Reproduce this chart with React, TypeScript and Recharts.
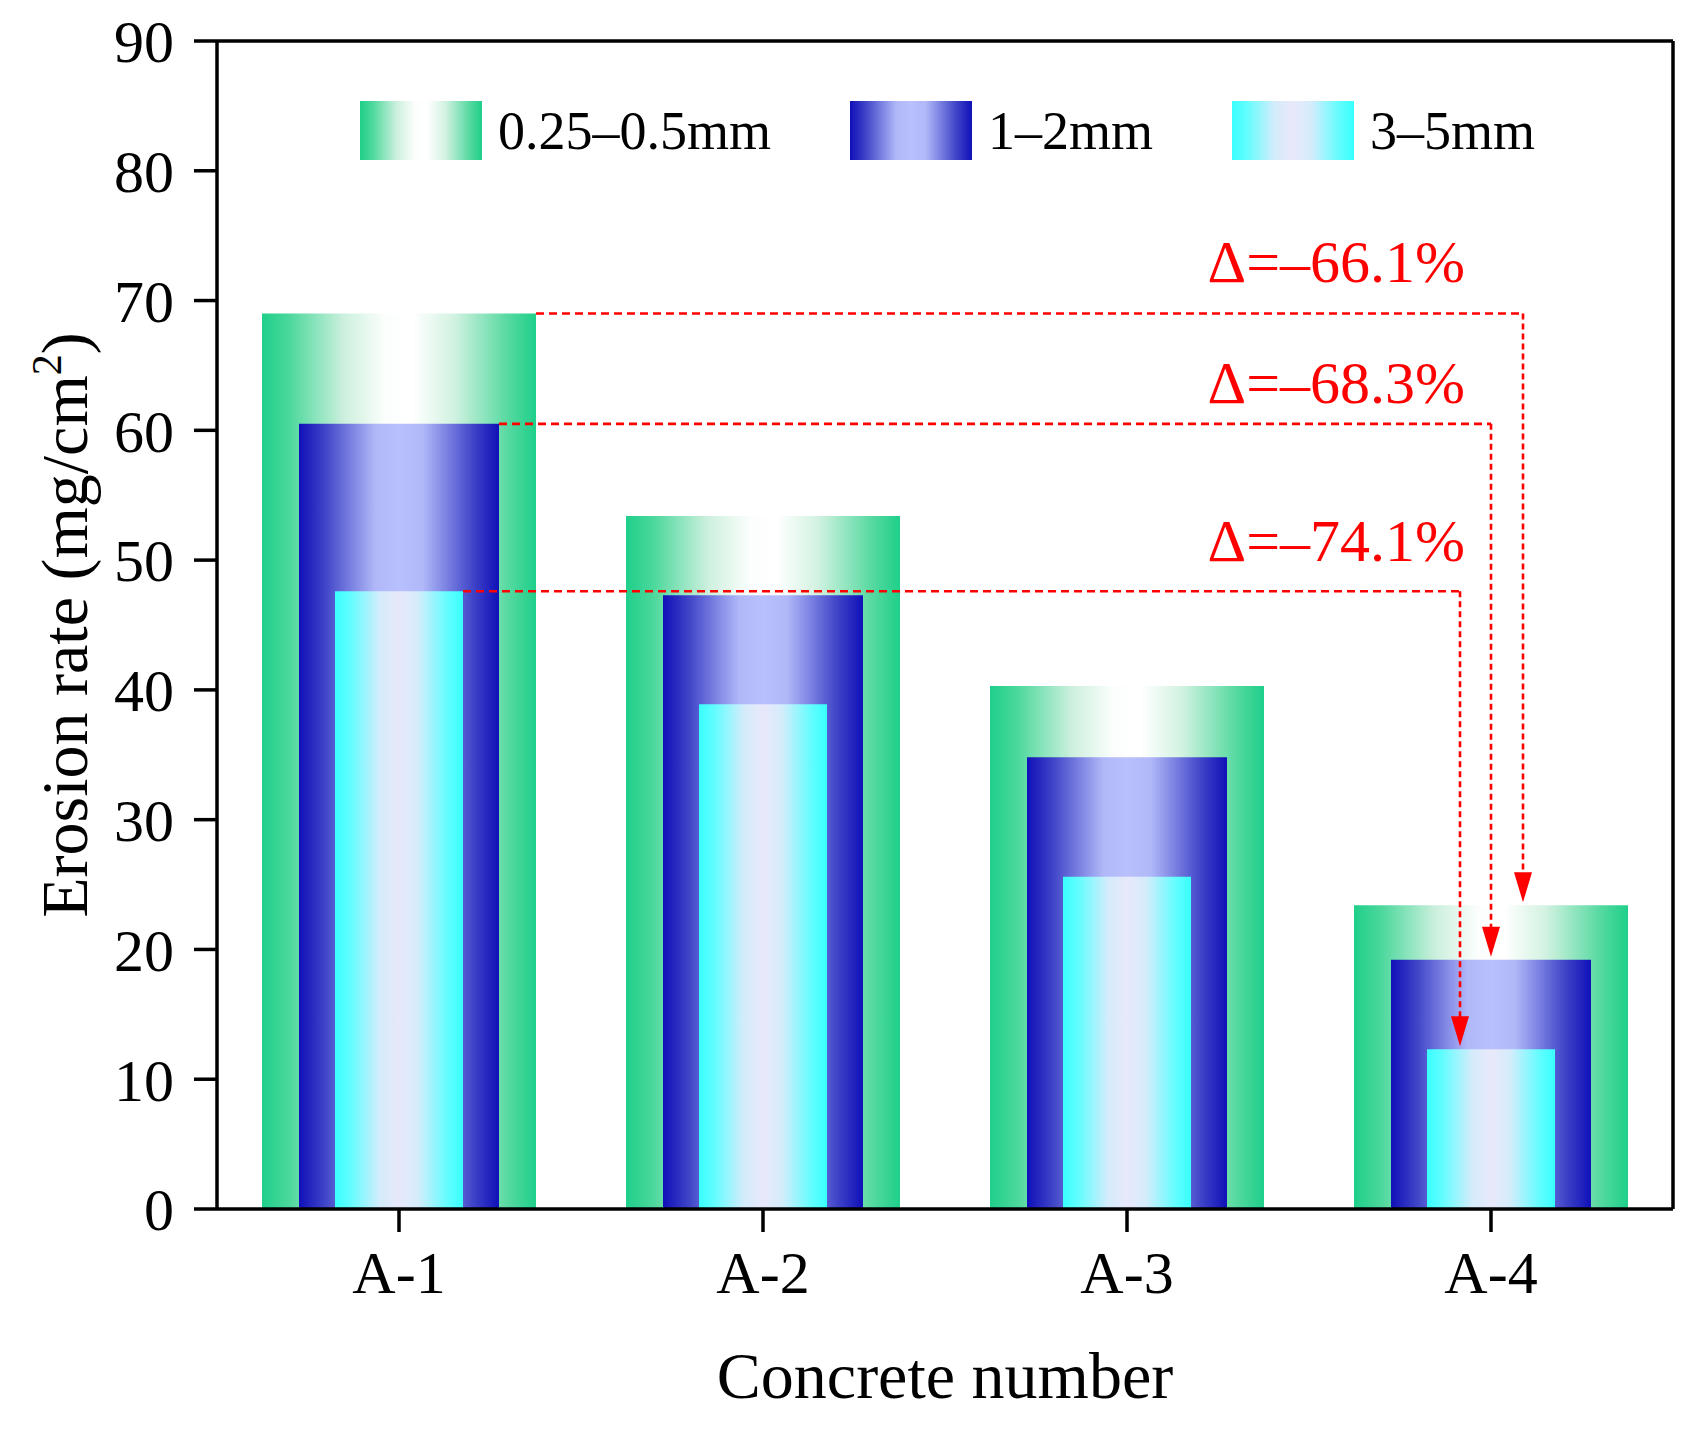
import React from "react";
import { BarChart, Bar, XAxis, YAxis, Legend, ReferenceLine } from "recharts";

const categories = ["A-1", "A-2", "A-3", "A-4"];
const fineRate = [69.0, 53.4, 40.3, 23.4];
const mediumRate = [60.5, 47.3, 34.8, 19.2];
const coarseRate = [47.6, 38.9, 25.6, 12.3];
const seriesNames = ["0.25–0.5mm", "1–2mm", "3–5mm"];
const yTicks = [0, 10, 20, 30, 40, 50, 60, 70, 80, 90];
const deltaLabels = ["Δ=–66.1%", "Δ=–68.3%", "Δ=–74.1%"];

const data = categories.map((name, i) => ({
  name,
  fine: fineRate[i],
  medium: mediumRate[i],
  coarse: coarseRate[i],
}));

const FONT = "'Liberation Serif', 'Times New Roman', serif";
const RED = "#ff0000";

type Stop = [number, string];

const greenStops: Stop[] = [
  [0, "#1ecf8a"],
  [0.1, "#4cd89c"],
  [0.3, "#cdf0de"],
  [0.45, "#fbfefc"],
  [0.55, "#ffffff"],
  [0.7, "#d2f2e1"],
  [0.9, "#55d9a0"],
  [1, "#1ecf8a"],
];
const blueStops: Stop[] = [
  [0, "#1010b8"],
  [0.12, "#3b40c6"],
  [0.38, "#b0b8f8"],
  [0.5, "#b8c0fd"],
  [0.62, "#b0b8f8"],
  [0.88, "#3b40c6"],
  [1, "#1010b8"],
];
const cyanStops: Stop[] = [
  [0, "#38ffff"],
  [0.12, "#62fdff"],
  [0.35, "#d4ecfb"],
  [0.5, "#e8e8fa"],
  [0.65, "#d4ecfb"],
  [0.88, "#62fdff"],
  [1, "#38ffff"],
];

const SERIES = [
  { key: "fine", name: seriesNames[0], size: 274, grad: "gradFine", stops: greenStops },
  { key: "medium", name: seriesNames[1], size: 200, grad: "gradMedium", stops: blueStops },
  { key: "coarse", name: seriesNames[2], size: 128, grad: "gradCoarse", stops: cyanStops },
];

// arrow x shift from the A-4 centre, gap of the label above the dashed line
const ANNOTATIONS = [
  { from: fineRate, half: 137, dx: 32, gap: 32 },
  { from: mediumRate, half: 100, dx: 0, gap: 21 },
  { from: coarseRate, half: 64, dx: -31, gap: 30 },
];

const cssGradient = (stops: Stop[]) =>
  `linear-gradient(to right, ${stops.map(([o, c]) => `${c} ${o * 100}%`).join(", ")})`;

function GradientLegend() {
  return (
    <div style={{ display: "flex", alignItems: "center", gap: 79 }}>
      {SERIES.map((s) => (
        <div key={s.key} style={{ display: "flex", alignItems: "center" }}>
          <span
            style={{
              display: "inline-block",
              width: 122,
              height: 59,
              marginRight: 16,
              background: cssGradient(s.stops),
            }}
          />
          <span style={{ fontFamily: FONT, fontSize: 54, lineHeight: 1, color: "#000" }}>
            {s.name}
          </span>
        </div>
      ))}
    </div>
  );
}

function YTitle(props: any) {
  const vb = props.viewBox || { x: 0, y: 41, width: 217, height: 1168 };
  const cx = vb.x + 87;
  const cy = vb.y + vb.height / 2;
  return (
    <text
      x={cx}
      y={cy}
      transform={`rotate(-90 ${cx} ${cy})`}
      textAnchor="middle"
      fontFamily={FONT}
      fontSize={66}
      fill="#000"
    >
      Erosion rate (mg/cm
      <tspan dy={-26} fontSize={42}>
        2
      </tspan>
      <tspan dy={26}>)</tspan>
    </text>
  );
}

function XTitle(props: any) {
  const vb = props.viewBox || { x: 217, y: 1209, width: 1456, height: 221 };
  return (
    <text
      x={vb.x + vb.width / 2}
      y={vb.y + 189}
      textAnchor="middle"
      fontFamily={FONT}
      fontSize={66}
      fill="#000"
    >
      Concrete number
    </text>
  );
}

function DeltaArrow(props: any) {
  const { x1, y1, x2, y2, half, dx, gap, text } = props;
  if ([x1, y1, x2, y2].some((v) => typeof v !== "number" || isNaN(v))) return null;
  const ax = x2 + dx;
  const tip = y2 - 3;
  const head = 30;
  return (
    <g>
      <line
        x1={x1 + half}
        y1={y1}
        x2={ax}
        y2={y1}
        stroke={RED}
        strokeWidth={2.6}
        strokeDasharray="8 5"
      />
      <line
        x1={ax}
        y1={y1}
        x2={ax}
        y2={tip - head + 2}
        stroke={RED}
        strokeWidth={2.6}
        strokeDasharray="6 4"
      />
      <polygon
        points={`${ax - 9},${tip - head} ${ax + 9},${tip - head} ${ax},${tip}`}
        fill={RED}
      />
      <text
        x={x2 - 26}
        y={y1 - gap}
        textAnchor="end"
        fontFamily={FONT}
        fontSize={60}
        fill={RED}
      >
        {text}
      </text>
    </g>
  );
}

const axisStroke = { stroke: "#000", strokeWidth: 3.5 };
const tickStyle = { fill: "#000", fontSize: 60, fontFamily: FONT };

export default function App() {
  return (
    <div
      style={{
        position: "absolute",
        left: 0,
        top: 0,
        width: 1695,
        height: 1430,
        background: "#fff",
      }}
    >
      <BarChart
        width={1695}
        height={1430}
        data={data}
        margin={{ top: 41, right: 22, bottom: 0, left: 0 }}
      >
        <defs>
          {SERIES.map((s) => (
            <linearGradient key={s.grad} id={s.grad} x1="0" y1="0" x2="1" y2="0">
              {s.stops.map(([o, c]) => (
                <stop key={o} offset={o} stopColor={c} />
              ))}
            </linearGradient>
          ))}
        </defs>

        <XAxis
          xAxisId="fine"
          dataKey="name"
          height={221}
          tick={tickStyle}
          tickSize={23}
          tickMargin={18}
          axisLine={axisStroke}
          tickLine={axisStroke}
          label={<XTitle />}
        />
        <XAxis xAxisId="medium" dataKey="name" height={0} hide />
        <XAxis xAxisId="coarse" dataKey="name" height={0} hide />

        <YAxis
          width={217}
          domain={[0, 90]}
          ticks={yTicks}
          interval={0}
          tick={tickStyle}
          tickSize={23}
          tickMargin={20}
          axisLine={axisStroke}
          tickLine={axisStroke}
          label={<YTitle />}
        />

        <Legend
          layout="horizontal"
          verticalAlign="middle"
          align="center"
          content={<GradientLegend />}
          wrapperStyle={{ left: 360, top: 101, width: "auto", height: "auto" }}
        />

        {SERIES.map((s) => (
          <Bar
            key={s.key}
            dataKey={s.key}
            name={s.name}
            xAxisId={s.key}
            barSize={s.size}
            fill={`url(#${s.grad})`}
            isAnimationActive={false}
          />
        ))}

        {/* closing frame: top edge at the y maximum, right edge at the end of the last band */}
        <ReferenceLine xAxisId="fine" y={yTicks[yTicks.length - 1]} stroke="#000" strokeWidth={3.5} />
        <ReferenceLine
          xAxisId="fine"
          x={categories[categories.length - 1]}
          position="end"
          stroke="#000"
          strokeWidth={3.5}
        />

        {ANNOTATIONS.map((a, i) => (
          <ReferenceLine
            key={deltaLabels[i]}
            xAxisId="fine"
            segment={[
              { x: categories[0], y: a.from[0] },
              { x: categories[3], y: a.from[3] },
            ]}
            shape={(p: any) => (
              <DeltaArrow {...p} half={a.half} dx={a.dx} gap={a.gap} text={deltaLabels[i]} />
            )}
          />
        ))}
      </BarChart>
    </div>
  );
}
